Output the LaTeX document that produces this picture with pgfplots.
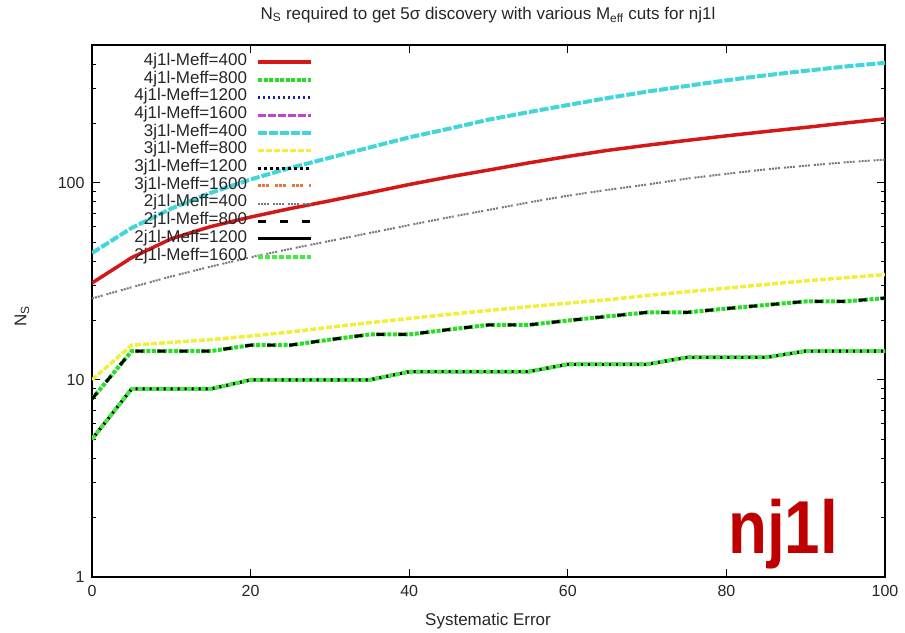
\documentclass[border=0pt]{standalone}
\usepackage{graphicx}
\usepackage{pgfplots}
\pgfplotsset{compat=1.18}
\usepackage{pgfplotstable}
\usepackage{fontspec}
\setmainfont{Liberation Sans}
\definecolor{cRed}{RGB}{212,24,24}
\definecolor{cGreen}{RGB}{40,220,40}
\definecolor{cGreenB}{RGB}{70,235,70}
\definecolor{cBlue}{RGB}{30,30,160}
\definecolor{cMag}{RGB}{190,70,205}
\definecolor{cCyan}{RGB}{64,214,218}
\definecolor{cYellow}{RGB}{240,240,60}
\definecolor{cOrange}{RGB}{228,120,64}
\definecolor{cGray}{RGB}{120,120,120}
\definecolor{cBig}{RGB}{192,0,0}

\pgfplotstableread{
x   red  cyan gray yellow mid low
0   31   44   25.9 10     8   5
5   41.7 59   29.5 15     14  9
10  52   74   33.5 15.5   14  9
15  60   89   37.6 16     14  9
20  67   104  41.9 16.7   15  10
25  74   119  46.2 17.5   15  10
30  81   134  50.7 18.5   16  10
35  89   151  55.6 19.5   17  10
40  98   170  61   20.5   17  11
45  107  188  66.8 21.5   18  11
50  116  209  72.8 22.5   19  11
55  126  228  79.4 23.5   19  11
60  136  248  86   24.5   20  12
65  146  269  92   25.5   21  12
70  155  290  98   26.8   22  12
75  164  310  105  28     22  13
80  173  331  111  29.2   23  13
85  182  351  117  30.5   24  13
90  191  370  122  31.8   25  14
95  201  389  127  33     25  14
100 211  406  131  34.2   26  14
}\data

\begin{document}
\begin{tikzpicture}
\path[use as bounding box] (0pt,0pt) rectangle (905pt,632pt);
\begin{axis}[
  at={(92pt,55pt)}, anchor=south west, scale only axis,
  width=793pt, height=532pt,
  xmin=0, xmax=100, ymin=1, ymax=500, ymode=log,
  axis line style={black, line width=1.3pt},
  tick align=inside,
  major tick length=8pt, minor tick length=4pt,
  tick style={black, line width=1pt},
  xtick={0,20,40,60,80,100},
  xticklabels={0,20,40,60,80,100},
  ytick={1,10,100},
  yticklabels={1,10,100},
  minor ytick={2,3,4,5,6,7,8,9,20,30,40,50,60,70,80,90,200,300,400},
  xticklabel style={font=\fontsize{16}{16}\selectfont, text=black!85, yshift=-5pt},
  yticklabel style={font=\fontsize{16}{16}\selectfont, text=black!85, xshift=-4pt},
  no markers,
  legend style={draw=none, fill=none, at={(axis description cs:0.2787,0.9847)}, anchor=north east,
    inner sep=0pt, outer sep=0pt, row sep=0pt, column sep=9pt,
    font=\fontsize{17}{17}\selectfont, text=black!85,
    nodes={inner sep=0pt, text height=12.2pt, text depth=5.5pt}},
  legend plot pos=right, legend cell align=right,
  legend image code/.code={\draw[#1] (0pt,0pt) -- (53pt,0pt);},
]
\addplot[cRed, line width=3.5pt] table[x=x,y=red] {\data};
\addlegendentry{4j1l-Meff=400}
\addplot[cGreen, line width=4pt, dash pattern=on 4pt off 1.5pt] table[x=x,y=mid] {\data};
\addlegendentry{4j1l-Meff=800}
\addplot[cBlue, line width=3pt, dash pattern=on 2pt off 3pt] table[x=x,y=low] {\data};
\addlegendentry{4j1l-Meff=1200}
\addplot[cMag, line width=3pt, dash pattern=on 8pt off 2pt] table[x=x,y=low] {\data};
\addlegendentry{4j1l-Meff=1600}
\addplot[cCyan, line width=4pt, dash pattern=on 9pt off 2pt] table[x=x,y=cyan] {\data};
\addlegendentry{3j1l-Meff=400}
\addplot[cYellow, line width=3.5pt, dash pattern=on 6pt off 2pt] table[x=x,y=yellow] {\data};
\addlegendentry{3j1l-Meff=800}
\addplot[black, line width=3pt, dash pattern=on 3pt off 3pt] table[x=x,y=low] {\data};
\addlegendentry{3j1l-Meff=1200}
\addplot[cOrange, line width=3pt, dash pattern=on 3pt off 1pt on 3pt off 1pt on 3pt off 6pt] table[x=x,y=low] {\data};
\addlegendentry{3j1l-Meff=1600}
\addplot[cGray, line width=2pt, dash pattern=on 2pt off 1pt on 2pt off 1pt on 2pt off 1pt on 2pt off 4pt] table[x=x,y=gray] {\data};
\addlegendentry{2j1l-Meff=400}
\addplot[black, line width=3pt, dash pattern=on 8pt off 14pt] table[x=x,y=mid] {\data};
\addlegendentry{2j1l-Meff=800}
\addplot[black, line width=3pt] table[x=x,y=low] {\data};
\addlegendentry{2j1l-Meff=1200}
\addplot[cGreenB, line width=4pt, dash pattern=on 5pt off 2pt] table[x=x,y=low] {\data};
\addlegendentry{2j1l-Meff=1600}
\end{axis}
\node[font=\fontsize{17}{17}\selectfont, text=black!85] at (488pt,617pt) {N\textsubscript{S} required to get 5σ discovery with various M\textsubscript{eff} cuts for nj1l};
\node[font=\fontsize{17}{17}\selectfont, text=black!85, rotate=90] at (22pt,316pt) {N\textsubscript{S}};
\node[font=\fontsize{17}{17}\selectfont, text=black!85] at (488pt,11pt) {Systematic Error};
\node[anchor=base west, inner sep=0pt, text=cBig] at (728pt,78pt) {\scalebox{0.85}[1]{\fontsize{75}{75}\selectfont\bfseries nj1l}};
\end{tikzpicture}
\end{document}
